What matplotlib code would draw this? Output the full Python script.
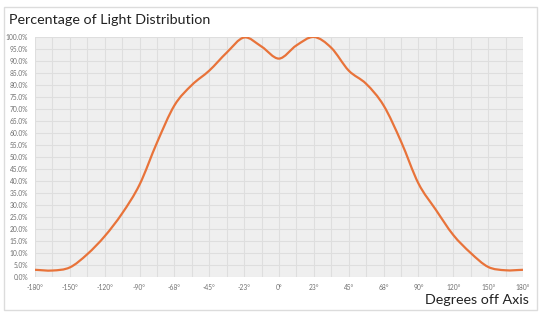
import matplotlib
matplotlib.use("Agg")
import matplotlib.pyplot as plt
from matplotlib.path import Path
from matplotlib.patches import PathPatch, Rectangle
import numpy as np

# tick labels (categorical axis, equally spaced)
angle_labels = ["-180°", "-150°", "-120°", "-90°", "-68°", "-45°", "-23°", "0°",
                "23°", "45°", "68°", "90°", "120°", "150°", "180°"]

# curve (position in category units, percent)
pos = [0, 0.5, 1, 1.5, 2, 2.5, 3, 3.5, 4, 4.5, 5, 5.5, 6, 6.5, 7,
       7.5, 8, 8.5, 9, 9.5, 10, 10.5, 11, 11.5, 12, 12.5, 13, 13.5, 14]
light = [3.0, 2.7, 4.0, 9.5, 17.0, 26.5, 38.5, 56.0, 71.5, 80.0, 86.0, 93.5, 99.8, 96.0, 91.0,
         96.5, 100.0, 95.5, 86.0, 80.5, 71.5, 56.5, 39.0, 28.0, 17.5, 10.0, 4.2, 2.8, 3.0]

plt.rcParams['font.family'] = ['Lato', 'DejaVu Sans']

fig = plt.figure(figsize=(5.44, 3.16), dpi=100)
fig.patch.set_facecolor("white")

# outer frame
frame = Rectangle((4 / 544, 6 / 316), 533 / 544, 303 / 316, transform=fig.transFigure,
                  facecolor="none", edgecolor="#dcdcdc", linewidth=1.0, zorder=-1)
fig.patches.append(frame)

ax = fig.add_axes([35 / 544, 1 - 277 / 316, 488 / 544, 240 / 316])
ax.set_facecolor("#efefef")

# smooth line (Catmull-Rom as bezier path, like Excel's smoothed line)
x = np.array(pos, dtype=float)
y = np.array(light, dtype=float)
verts = [(x[0], y[0])]
codes = [Path.MOVETO]
for i in range(len(x) - 1):
    x0, y0 = (x[i - 1], y[i - 1]) if i > 0 else (x[i], y[i])
    x3, y3 = (x[i + 2], y[i + 2]) if i + 2 < len(x) else (x[i + 1], y[i + 1])
    h = x[i + 1] - x[i]
    m1 = (y[i + 1] - y0) / (x[i + 1] - x0)
    m2 = (y3 - y[i]) / (x3 - x[i])
    c1 = (x[i] + h / 3, y[i] + m1 * h / 3)
    c2 = (x[i + 1] - h / 3, y[i + 1] - m2 * h / 3)
    verts += [c1, c2, (x[i + 1], y[i + 1])]
    codes += [Path.CURVE4, Path.CURVE4, Path.CURVE4]
ax.add_patch(PathPatch(Path(verts, codes), facecolor="none", edgecolor="#e8733a",
                       linewidth=1.6, zorder=3))

ax.set_xlim(0, 14)
ax.set_ylim(0, 100)

ax.set_xticks(range(len(angle_labels)))
ax.set_xticklabels(angle_labels)
ax.set_xticks(np.arange(0.5, 14, 1), minor=True)
yt = np.arange(0, 101, 5)
ax.set_yticks(yt)
ax.set_yticklabels(["%.1f%%" % v for v in yt])

ax.grid(True, which="both", color="#dedede", linewidth=0.8)
ax.set_axisbelow(True)
ax.tick_params(which="both", length=0)
ax.tick_params(axis="both", labelsize=4.8, labelcolor="#707070")
ax.tick_params(axis="x", pad=5)
ax.tick_params(axis="y", pad=5)
for s in ax.spines.values():
    s.set_visible(False)

fig.text(9 / 544, 1 - 20 / 316, "Percentage of Light Distribution", fontsize=10.3,
         color="#222222", va="center", ha="left")
fig.text(529 / 544, 1 - 300 / 316, "Degrees off Axis", fontsize=10.3,
         color="#222222", va="center", ha="right")

fig.savefig("out.png", dpi=100)
